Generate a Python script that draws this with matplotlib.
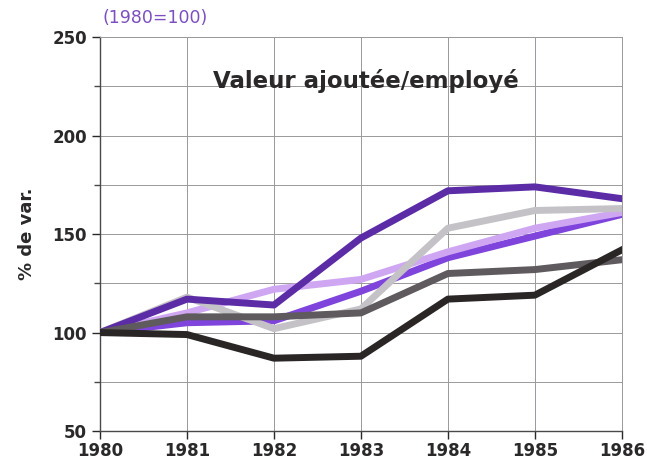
import matplotlib.pyplot as plt
from matplotlib.ticker import MultipleLocator

years = [1980, 1981, 1982, 1983, 1984, 1985, 1986]

# series (1980 = 100)
med_purple = [100, 105, 106, 121, 138, 149, 160]
light_purple = [100, 110, 122, 127, 141, 153, 161]
light_gray = [100, 118, 102, 112, 153, 162, 163]
dark_purple = [100, 117, 114, 148, 172, 174, 168]
dark_gray = [100, 108, 108, 110, 130, 132, 137]
black = [100, 99, 87, 88, 117, 119, 142]

plt.rcParams['font.family'] = ['DejaVu Sans']

fig = plt.figure(figsize=(6.47, 4.65), dpi=100)
ax = fig.add_axes([0.1546, 0.073, 0.8065, 0.847])

lw = 5
ax.plot(years, med_purple, color='#7e44dc', lw=lw, zorder=3)
ax.plot(years, light_purple, color='#cfa6f2', lw=lw, zorder=3)
ax.plot(years, light_gray, color='#c4c2c6', lw=lw, zorder=3)
ax.plot(years, dark_purple, color='#5b2ca6', lw=lw, zorder=4)
ax.plot(years, dark_gray, color='#5e5a5e', lw=lw, zorder=4)
ax.plot(years, black, color='#2a2626', lw=lw, zorder=5)

ax.set_xlim(1980, 1986)
ax.set_ylim(50, 250)
ax.set_xticks(years)
ax.yaxis.set_major_locator(MultipleLocator(50))
ax.yaxis.set_minor_locator(MultipleLocator(25))
ax.grid(True, which='both', color='#9a989a', lw=0.7)
ax.set_axisbelow(True)

for s in ['top', 'right']:
    ax.spines[s].set_color('#9a989a')
    ax.spines[s].set_linewidth(0.7)
for s in ['left', 'bottom']:
    ax.spines[s].set_color('#4a484a')
    ax.spines[s].set_linewidth(1.0)

ax.tick_params(axis='both', which='major', labelsize=12, colors='#2a2828',
               length=6, width=1)
ax.tick_params(axis='y', which='minor', length=4, width=1, colors='#4a484a')
for lab in ax.get_xticklabels() + ax.get_yticklabels():
    lab.set_fontweight('bold')
ax.tick_params(axis='x', pad=2)

ax.set_ylabel('% de var.', fontsize=13, fontweight='bold', color='#2a2828',
              labelpad=12)
ax.text(0.51, 0.89, 'Valeur ajoutée/employé', transform=ax.transAxes,
        ha='center', va='center', fontsize=16.5, fontweight='bold',
        color='#2a2828')
fig.text(0.158, 0.962, '(1980=100)', ha='left', va='center', fontsize=12.5,
         color='#7b4fc0')

fig.savefig('out.png', dpi=100)
